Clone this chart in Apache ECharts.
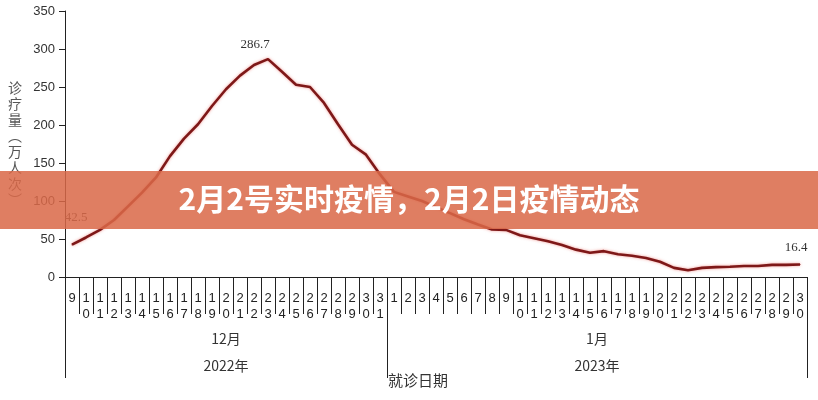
<!DOCTYPE html>
<html><head><meta charset="utf-8">
<script src="https://cdn.jsdelivr.net/npm/echarts@6/dist/echarts.min.js"></script>
<style>html,body{margin:0;padding:0;background:#fff}#c{width:818px;height:400px}</style>
</head><body><div id="c"></div>
<script>
// ---- data ----
const days = ['9','10','11','12','13','14','15','16','17','18','19','20','21','22','23','24','25','26','27','28','29','30','31',
  '1','2','3','4','5','6','7','8','9','10','11','12','13','14','15','16','17','18','19','20','21','22','23','24','25','26','27','28','29','30'];
const visits = [42.5,52,62,75,93,111,131,159,182,201,225,247,265,279,286.7,270,253,250,229,201,174,161,135,
  112,106,100,92,84,76,69,62.5,62,55,51,47,42,36,32,34,30,28,25,20,12,9,12,13,13.5,14.5,14.5,16,16,16.4];
const monthNames = ['12月','1月'];
const yearNames = ['2022年','2023年'];
const yAxisName = '诊疗量（万人次）';
const xAxisName = '就诊日期';
const titleText = '2月2号实时疫情，2月2日疫情动态';

// ---- derived ----
const starts = [0];
days.forEach((d,i)=>{ if(i>0 && +d < +days[i-1]) starts.push(i); });
starts.push(days.length);
const groupCenters = monthNames.map((m,k)=>(starts[k]+starts[k+1])/2);
const maxIdx = visits.indexOf(Math.max(...visits));
const labelOffsets = {};
labelOffsets[0] = [4,-15];
labelOffsets[maxIdx] = [-13,-3];
labelOffsets[visits.length-1] = [-4,-5];
const seriesData = visits.map((v,i)=> labelOffsets[i]
  ? {value:v, symbol:'circle', symbolSize:1, label:{show:true, offset:labelOffsets[i]}}
  : {value:v, symbol:'none'});
const vName = yAxisName.split('').map(ch=> ch==='（'?'︵':(ch==='）'?'︶':ch)).join('\n');

const chart = echarts.init(document.getElementById('c'));
chart.setOption({
  animation:false,
  backgroundColor:'#fff',
  grid:{left:65, right:11, top:11, bottom:123, containLabel:false},
  xAxis:[{
    type:'category', data:days, boundaryGap:true,
    axisLine:{show:true, lineStyle:{color:'#222', width:1}},
    axisTick:{show:true, interval:0, length:37, lineStyle:{color:'#222'}},
    axisLabel:{interval:0, hideOverlap:false, margin:13, color:'#222', fontSize:13, lineHeight:16,
      fontFamily:'Liberation Sans, Arial, sans-serif', verticalAlign:'top',
      formatter:(v)=> v.split('').join('\n')},
    splitLine:{show:false}
  },{
    type:'value', position:'bottom', min:0, max:days.length,
    axisLine:{show:false},
    axisTick:{show:true, customValues:starts, length:101, lineStyle:{color:'#222'}},
    axisLabel:{show:true, customValues:groupCenters, margin:48, color:'#333', fontSize:14, lineHeight:27,
      fontFamily:'Noto Sans CJK SC, sans-serif',
      formatter:(v)=>{ const k = groupCenters.indexOf(v); return k>=0 ? monthNames[k]+'\n'+yearNames[k] : ''; }},
    splitLine:{show:false}
  }],
  yAxis:{
    type:'value', min:0, max:350, interval:50,
    name:vName, nameLocation:'middle', nameRotate:0, nameGap:43,
    nameTextStyle:{color:'#555', fontSize:14, lineHeight:16, fontFamily:'Noto Sans CJK SC, sans-serif'},
    axisLine:{show:true, lineStyle:{color:'#222'}},
    axisTick:{show:true, length:6, inside:false, lineStyle:{color:'#222'}},
    axisLabel:{color:'#333', fontSize:13, margin:10, fontFamily:'Liberation Sans, Arial, sans-serif'},
    splitLine:{show:false}
  },
  series:[{
    type:'line', xAxisIndex:0, data:seriesData, showSymbol:true, smooth:false,
    lineStyle:{color:'#7e1818', width:2.6, shadowColor:'rgba(230,70,60,0.55)', shadowBlur:3},
    itemStyle:{color:'#7e1818'},
    label:{show:false, position:'top', color:'#333', fontSize:13, fontFamily:'Liberation Serif, Times New Roman, serif'},
    z:2
  }],
  graphic:[
    {type:'text', left:388, top:373, z:5, style:{text:xAxisName, fill:'#333', fontSize:15, fontFamily:'Noto Sans CJK SC, sans-serif'}},
    {type:'rect', left:0, top:171, z:100, shape:{width:818, height:58}, style:{fill:'rgba(218,105,72,0.86)'}},
    {type:'text', left:'center', top:184, z:101, style:{text:titleText, fill:'#fff', fontSize:30, fontWeight:'bold',
      fontFamily:'Noto Sans CJK SC, sans-serif'}}
  ]
});
</script></body></html>
